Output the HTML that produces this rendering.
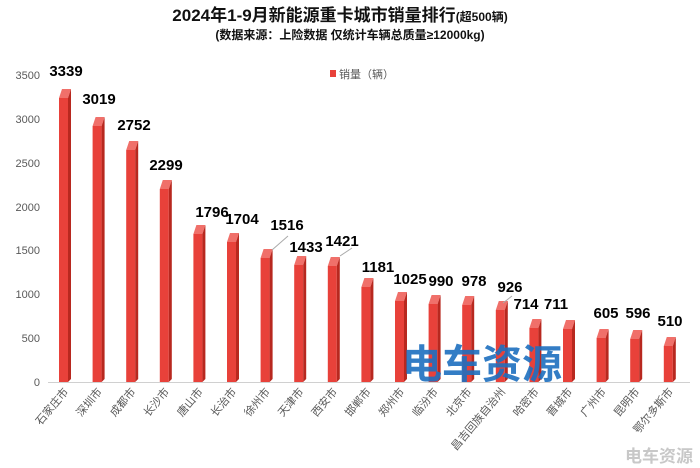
<!DOCTYPE html>
<html><head><meta charset="utf-8"><style>
body{margin:0;background:#fff;}
svg{display:block;font-family:"Liberation Sans","Noto Sans CJK SC",sans-serif;}
.f{fill:#e8413a}.s{fill:#b8281f}.c{fill:#f0706a}
</style></head><body>
<svg width="700" height="468" viewBox="0 0 700 468">
<text x="340" y="21" text-anchor="middle" font-size="17" font-weight="bold" fill="#111">2024年1-9月新能源重卡城市销量排行<tspan font-size="12">(超500辆)</tspan></text>
<text x="350" y="39" text-anchor="middle" font-size="12" font-weight="bold" fill="#111">(数据来源：上险数据 仅统计车辆总质量≥12000kg)</text>
<g font-size="11" fill="#595959" text-anchor="end">
<text x="40" y="79">3500</text><text x="40" y="123">3000</text><text x="40" y="167">2500</text><text x="40" y="211">2000</text><text x="40" y="254">1500</text><text x="40" y="298">1000</text><text x="40" y="342">500</text><text x="40" y="386">0</text>
</g>
<rect x="330" y="70" width="6" height="7" fill="#e8413a"/>
<text x="339" y="78" font-size="11" fill="#595959">销量（辆）</text>
<line x1="48" y1="382.5" x2="690" y2="382.5" stroke="#d0d0d0"/>

<g transform="translate(65,0)"><rect class="f" x="-6" y="98" width="9" height="284"/><polygon class="c" points="-6,98 -3,89 6,89 3,98"/><polygon class="s" points="3,98 6,89 6,379 3,382"/></g>
<g transform="translate(98.6,0)"><rect class="f" x="-6" y="126" width="9" height="256"/><polygon class="c" points="-6,126 -3,117 6,117 3,126"/><polygon class="s" points="3,126 6,117 6,379 3,382"/></g>
<g transform="translate(132.2,0)"><rect class="f" x="-6" y="150" width="9" height="232"/><polygon class="c" points="-6,150 -3,141 6,141 3,150"/><polygon class="s" points="3,150 6,141 6,379 3,382"/></g>
<g transform="translate(165.8,0)"><rect class="f" x="-6" y="189" width="9" height="193"/><polygon class="c" points="-6,189 -3,180 6,180 3,189"/><polygon class="s" points="3,189 6,180 6,379 3,382"/></g>
<g transform="translate(199.4,0)"><rect class="f" x="-6" y="234" width="9" height="148"/><polygon class="c" points="-6,234 -3,225 6,225 3,234"/><polygon class="s" points="3,234 6,225 6,379 3,382"/></g>
<g transform="translate(233,0)"><rect class="f" x="-6" y="242" width="9" height="140"/><polygon class="c" points="-6,242 -3,233 6,233 3,242"/><polygon class="s" points="3,242 6,233 6,379 3,382"/></g>
<g transform="translate(266.6,0)"><rect class="f" x="-6" y="258" width="9" height="124"/><polygon class="c" points="-6,258 -3,249 6,249 3,258"/><polygon class="s" points="3,258 6,249 6,379 3,382"/></g>
<g transform="translate(300.2,0)"><rect class="f" x="-6" y="265" width="9" height="117"/><polygon class="c" points="-6,265 -3,256 6,256 3,265"/><polygon class="s" points="3,265 6,256 6,379 3,382"/></g>
<g transform="translate(333.8,0)"><rect class="f" x="-6" y="266" width="9" height="116"/><polygon class="c" points="-6,266 -3,257 6,257 3,266"/><polygon class="s" points="3,266 6,257 6,379 3,382"/></g>
<g transform="translate(367.4,0)"><rect class="f" x="-6" y="287" width="9" height="95"/><polygon class="c" points="-6,287 -3,278 6,278 3,287"/><polygon class="s" points="3,287 6,278 6,379 3,382"/></g>
<g transform="translate(401,0)"><rect class="f" x="-6" y="301" width="9" height="81"/><polygon class="c" points="-6,301 -3,292 6,292 3,301"/><polygon class="s" points="3,301 6,292 6,379 3,382"/></g>
<g transform="translate(434.6,0)"><rect class="f" x="-6" y="304" width="9" height="78"/><polygon class="c" points="-6,304 -3,295 6,295 3,304"/><polygon class="s" points="3,304 6,295 6,379 3,382"/></g>
<g transform="translate(468.2,0)"><rect class="f" x="-6" y="305" width="9" height="77"/><polygon class="c" points="-6,305 -3,296 6,296 3,305"/><polygon class="s" points="3,305 6,296 6,379 3,382"/></g>
<g transform="translate(501.8,0)"><rect class="f" x="-6" y="310" width="9" height="72"/><polygon class="c" points="-6,310 -3,301 6,301 3,310"/><polygon class="s" points="3,310 6,301 6,379 3,382"/></g>
<g transform="translate(535.4,0)"><rect class="f" x="-6" y="328" width="9" height="54"/><polygon class="c" points="-6,328 -3,319 6,319 3,328"/><polygon class="s" points="3,328 6,319 6,379 3,382"/></g>
<g transform="translate(569,0)"><rect class="f" x="-6" y="329" width="9" height="53"/><polygon class="c" points="-6,329 -3,320 6,320 3,329"/><polygon class="s" points="3,329 6,320 6,379 3,382"/></g>
<g transform="translate(602.6,0)"><rect class="f" x="-6" y="338" width="9" height="44"/><polygon class="c" points="-6,338 -3,329 6,329 3,338"/><polygon class="s" points="3,338 6,329 6,379 3,382"/></g>
<g transform="translate(636.2,0)"><rect class="f" x="-6" y="339" width="9" height="43"/><polygon class="c" points="-6,339 -3,330 6,330 3,339"/><polygon class="s" points="3,339 6,330 6,379 3,382"/></g>
<g transform="translate(669.8,0)"><rect class="f" x="-6" y="346" width="9" height="36"/><polygon class="c" points="-6,346 -3,337 6,337 3,346"/><polygon class="s" points="3,346 6,337 6,379 3,382"/></g>

<g font-size="15" font-weight="bold" fill="#000" text-anchor="middle">
<text x="66" y="76">3339</text><text x="99" y="104">3019</text><text x="134" y="130">2752</text><text x="166" y="170">2299</text><text x="212" y="217">1796</text><text x="242" y="224">1704</text><text x="287" y="230">1516</text><text x="306" y="252">1433</text><text x="342" y="246">1421</text><text x="378" y="272">1181</text><text x="410" y="284">1025</text><text x="441" y="286">990</text><text x="474" y="286">978</text><text x="510" y="292">926</text><text x="526" y="309">714</text><text x="556" y="309">711</text><text x="606" y="318">605</text><text x="638" y="318">596</text><text x="670" y="326">510</text>
</g>
<line x1="272" y1="250" x2="288" y2="236" stroke="#aaa"/>
<line x1="340" y1="256" x2="352" y2="248" stroke="#aaa"/>
<line x1="503" y1="303" x2="512" y2="296" stroke="#aaa"/>

<g font-size="11" fill="#595959" text-anchor="end">
<text transform="translate(69,392) rotate(-50)">石家庄市</text>
<text transform="translate(102.6,392) rotate(-50)">深圳市</text>
<text transform="translate(136.2,392) rotate(-50)">成都市</text>
<text transform="translate(169.8,392) rotate(-50)">长沙市</text>
<text transform="translate(203.4,392) rotate(-50)">唐山市</text>
<text transform="translate(237,392) rotate(-50)">长治市</text>
<text transform="translate(270.6,392) rotate(-50)">徐州市</text>
<text transform="translate(304.2,392) rotate(-50)">天津市</text>
<text transform="translate(337.8,392) rotate(-50)">西安市</text>
<text transform="translate(371.4,392) rotate(-50)">邯郸市</text>
<text transform="translate(405,392) rotate(-50)">郑州市</text>
<text transform="translate(438.6,392) rotate(-50)">临汾市</text>
<text transform="translate(472.2,392) rotate(-50)">北京市</text>
<text transform="translate(505.8,392) rotate(-50)">昌吉回族自治州</text>
<text transform="translate(539.4,392) rotate(-50)">哈密市</text>
<text transform="translate(573,392) rotate(-50)">晋城市</text>
<text transform="translate(606.6,392) rotate(-50)">广州市</text>
<text transform="translate(640.2,392) rotate(-50)">昆明市</text>
<text transform="translate(673.8,392) rotate(-50)">鄂尔多斯市</text>
</g>
<text x="402" y="378" font-size="40" font-weight="bold" fill="#1e6fbf" opacity="0.9">电车资源</text>
<text x="693" y="462" text-anchor="end" font-size="17" font-weight="bold" fill="#c8c8c8">电车资源</text>
</svg>
</body></html>
